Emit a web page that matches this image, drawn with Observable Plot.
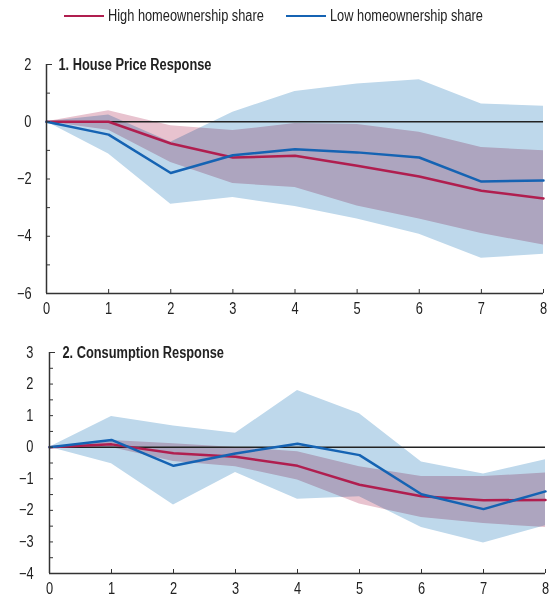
<!DOCTYPE html>
<html><head><meta charset="utf-8">
<script src="https://cdn.jsdelivr.net/npm/d3@7"></script>
<script src="https://cdn.jsdelivr.net/npm/@observablehq/plot@0.6"></script>
<style>
body{margin:0;background:#fff;}
#chart{position:relative;width:550px;height:597px;font-family:"Liberation Sans",Arial,sans-serif;color:#222;}
.legend{position:absolute;top:6px;left:0;width:550px;height:20px;font-size:16px;}
.legend .item{position:absolute;top:0;display:flex;align-items:center;height:20px;white-space:nowrap;}
.legend .sw{display:inline-block;width:40px;height:2.5px;margin-right:4px;flex:none;}
.legend .tx{display:inline-block;transform:scaleX(0.8);transform-origin:left center;}
.panel{position:absolute;left:0;}
</style></head><body>
<div id="chart"></div>
<script>
// Horizons (quarters)
const horizons = [0, 1, 2, 3, 4, 5, 6, 7, 8];
const seriesNames = ["High homeownership share", "Low homeownership share"];

// Panel 1: House price response
const hpHigh   = [0, 0.00, -0.76, -1.25, -1.19, -1.54, -1.91, -2.41, -2.68];
const hpHighLo = [0, -0.30, -1.42, -2.16, -2.30, -2.94, -3.40, -3.90, -4.31];
const hpHighHi = [0, 0.38, -0.14, -0.31, -0.06, -0.10, -0.37, -0.90, -1.01];
const hpLow    = [0, -0.45, -1.79, -1.17, -0.96, -1.07, -1.25, -2.09, -2.05];
const hpLowLo  = [0, -1.13, -2.88, -2.65, -2.96, -3.40, -3.93, -4.77, -4.63];
const hpLowHi  = [0, 0.24, -0.72, 0.33, 1.06, 1.32, 1.47, 0.62, 0.54];
const hpYTicks = [2, 1, 0, -1, -2, -3, -4, -5, -6];
const hpYLabels = [2, 0, -2, -4, -6];

// Panel 2: Consumption response
const cHigh   = [0, 0.09, -0.19, -0.30, -0.59, -1.19, -1.55, -1.68, -1.67];
const cHighLo = [0, -0.01, -0.45, -0.62, -1.04, -1.80, -2.23, -2.42, -2.54];
const cHighHi = [0, 0.21, 0.11, -0.01, -0.14, -0.62, -0.93, -0.93, -0.82];
const cLow    = [0, 0.23, -0.59, -0.20, 0.11, -0.25, -1.49, -1.96, -1.40];
const cLowLo  = [0, -0.52, -1.83, -0.80, -1.65, -1.57, -2.54, -3.03, -2.49];
const cLowHi  = [0, 0.97, 0.67, 0.44, 1.80, 1.06, -0.47, -0.85, -0.40];
const cYTicks = [3, 2.5, 2, 1.5, 1, 0.5, 0, -0.5, -1, -1.5, -2, -2.5, -3, -3.5, -4];
const cYLabels = [3, 2, 1, 0, -1, -2, -3, -4];

const RED = "#b01e4f", BLUE = "#1563b3";
const BLUE_BAND = "#bed8eb", PINK_BAND = "#e8c3cf";
const FONT = '"Liberation Sans",Arial,sans-serif';
const NARROW = 0.8; // condensed-look factor for text

function panel(o) {
  const W = 550;
  const innerW = W - o.ml - o.mr, innerH = o.height - o.mt - o.mb;
  const rows = horizons.map((h, i) => ({
    h, high: o.high[i], highLo: o.highLo[i], highHi: o.highHi[i],
    low: o.low[i], lowLo: o.lowLo[i], lowHi: o.lowHi[i]
  }));
  return Plot.plot({
    width: W, height: o.height,
    marginTop: o.mt, marginBottom: o.mb, marginLeft: o.ml, marginRight: o.mr,
    x: {domain: [0, 8]},
    y: {domain: o.yDomain},
    style: {fontFamily: FONT, fontSize: "16px", color: "#222", background: "transparent", overflow: "visible"},
    marks: [
      Plot.areaY(rows, {x: "h", y1: "lowLo", y2: "lowHi", fill: BLUE_BAND}),
      Plot.areaY(rows, {x: "h", y1: "highLo", y2: "highHi", fill: PINK_BAND, mixBlendMode: "multiply"}),
      Plot.ruleY([0], {stroke: "#222", strokeWidth: 1.5}),
      Plot.line(rows, {x: "h", y: "high", stroke: RED, strokeWidth: 2.5}),
      Plot.line(rows, {x: "h", y: "low", stroke: BLUE, strokeWidth: 2.5}),
      Plot.ruleX([0], {stroke: "#333", strokeWidth: 1.5}),
      Plot.ruleY([o.yDomain[0]], {stroke: "#333", strokeWidth: 1.5}),
      Plot.tickY(o.yTicks, {y: d => d, insetRight: innerW - 4, stroke: "#333"}),
      Plot.tickY([o.yDomain[1]], {y: d => d, insetRight: innerW - 6, stroke: "#333"}),
      Plot.tickX(horizons, {x: d => d, insetTop: innerH - 4, stroke: "#333"}),
      Plot.axisY(o.yLabels, {tickSize: 0, tickPadding: o.ypad, fontSize: 16, label: null}),
      Plot.axisX(horizons, {tickSize: 0, tickPadding: 9, fontSize: 16, label: null}),
      Plot.text([o.title], {text: d => d, frameAnchor: "top-left", dx: o.tdx, lineAnchor: "middle",
        textAnchor: "start", fontWeight: "bold", fontSize: 16, fill: "#222"})
    ]
  });
}

function condense(svg) {
  svg.querySelectorAll("text").forEach(t => {
    const len = t.getComputedTextLength();
    if (len > 0) {
      t.setAttribute("textLength", (len * NARROW).toFixed(2));
      t.setAttribute("lengthAdjust", "spacingAndGlyphs");
    }
  });
}

const chart = document.getElementById("chart");

// Legend
const legend = document.createElement("div");
legend.className = "legend";
[[seriesNames[0], RED, 64], [seriesNames[1], BLUE, 286]].forEach(([name, color, left]) => {
  const it = document.createElement("div");
  it.className = "item";
  it.style.left = left + "px";
  const sw = document.createElement("span");
  sw.className = "sw"; sw.style.background = color;
  const tx = document.createElement("span");
  tx.className = "tx";
  tx.textContent = name;
  it.appendChild(sw); it.appendChild(tx);
  legend.appendChild(it);
});
chart.appendChild(legend);

const p1 = panel({
  title: "1. House Price Response", yDomain: [-6, 2], yTicks: hpYTicks, yLabels: hpYLabels,
  high: hpHigh, highLo: hpHighLo, highHi: hpHighHi, low: hpLow, lowLo: hpLowLo, lowHi: hpLowHi,
  height: 280, mt: 24, mb: 27, ml: 46, mr: 7, ypad: 15, tdx: 12
});
p1.classList.add("panel"); p1.style.top = "40px";
chart.appendChild(p1);
condense(p1);

const p2 = panel({
  title: "2. Consumption Response", yDomain: [-4, 3], yTicks: cYTicks, yLabels: cYLabels,
  high: cHigh, highLo: cHighLo, highHi: cHighHi, low: cLow, lowLo: cLowLo, lowHi: cLowHi,
  height: 277, mt: 32, mb: 24, ml: 49, mr: 5, ypad: 16, tdx: 13
});
p2.classList.add("panel"); p2.style.top = "320px";
chart.appendChild(p2);
condense(p2);
</script>
</body></html>
